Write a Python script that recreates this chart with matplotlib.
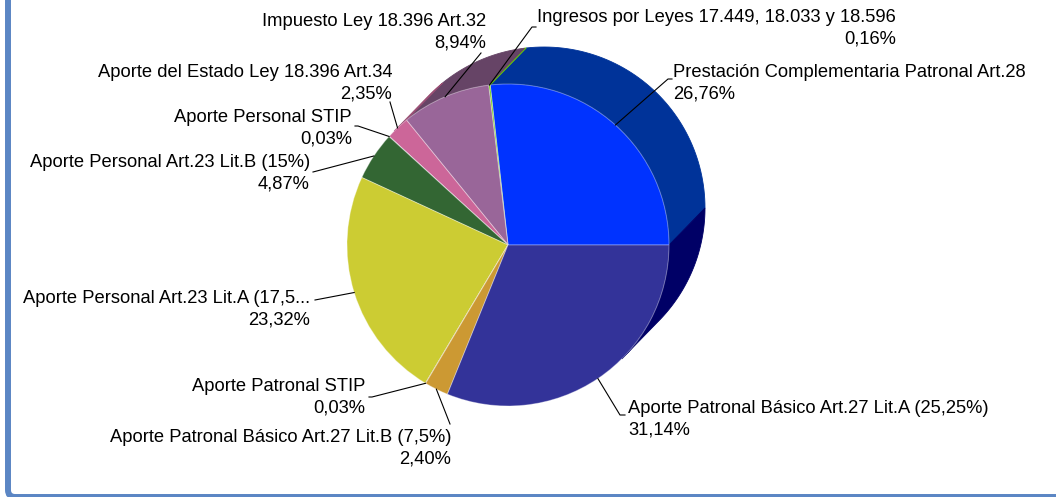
import numpy as np
import matplotlib
matplotlib.use("Agg")
import matplotlib.pyplot as plt
from matplotlib.patches import FancyBboxPatch, Polygon

plt.rcParams['font.family'] = ['Liberation Sans', 'DejaVu Sans']

# data, counterclockwise from 3 o'clock
labels = [
    "Prestación Complementaria Patronal Art.28",
    "Ingresos por Leyes 17.449, 18.033 y 18.596",
    "Impuesto Ley 18.396 Art.32",
    "Aporte del Estado Ley 18.396 Art.34",
    "Aporte Personal STIP",
    "Aporte Personal Art.23 Lit.B (15%)",
    "Aporte Personal Art.23 Lit.A (17,5...",
    "Aporte Patronal STIP",
    "Aporte Patronal Básico Art.27 Lit.B (7,5%)",
    "Aporte Patronal Básico Art.27 Lit.A (25,25%)",
]
pct = [26.76, 0.16, 8.94, 2.35, 0.03, 4.87, 23.32, 0.03, 2.40, 31.14]

front_colors = ['#0033ff', '#66cc00', '#996699', '#cc6699', '#cc99cc',
                '#336633', '#cccc33', '#996633', '#cc9933', '#333399']
side_colors = ['#003399', '#66cc00', '#664466', '#994d73', '#996699',
               '#224422', '#999922', '#664422', '#996622', '#000066']

# label layout: (text x, text y centre, align, leader path points) in pixel coords (y down)
label_pos = [
    (673, 83, 'left', [(668, 79), (672, 79)]),
    (896, 28, 'right', [(532, 27), (536, 27)]),
    (486, 32, 'right', [(481, 53)]),
    (392, 83, 'right', [(390, 102)]),
    (352, 128, 'right', [(358, 126), (355, 126)]),
    (310, 173, 'right', [(313, 172)]),
    (310, 309, 'right', [(315, 300)]),
    (365, 397, 'right', [(372, 397), (369, 397)]),
    (451, 448, 'right', [(450, 424)]),
    (628, 419, 'left', [(620, 415), (625, 415)]),
]

W, H = 1056, 497
fig = plt.figure(figsize=(W / 100, H / 100), dpi=100)
ax = fig.add_axes([0, 0, 1, 1])

cx, cy = 508, H - 245
R = 161
dx, dy = 36, 37

wedges, _ = ax.pie(pct, colors=front_colors, startangle=0, counterclock=True,
                   center=(cx, cy), radius=R, normalize=True, frame=True,
                   wedgeprops=dict(edgecolor=(1, 1, 1, 0.35), linewidth=0.7, zorder=3))
ax.set_xlim(0, W)
ax.set_ylim(0, H)
ax.set_aspect('equal')
ax.axis('off')

# side walls of the extruded pie (visible between -45 and 135 degrees)
for w, sc in zip(wedges, side_colors):
    t1, t2 = w.theta1, w.theta2
    for k in (-1, 0, 1):
        a = max(t1 + 360 * k, -45)
        b = min(t2 + 360 * k, 135)
        if a >= b:
            continue
        th = np.radians(np.linspace(a, b, 60))
        fx = cx + R * np.cos(th)
        fy = cy + R * np.sin(th)
        bx = fx[::-1] + dx
        by = fy[::-1] + dy
        poly = Polygon(np.column_stack([np.r_[fx, bx], np.r_[fy, by]]),
                       closed=True, facecolor=sc, edgecolor=sc, linewidth=0.6, zorder=1)
        ax.add_patch(poly)

# labels with leader lines
for w, lab, p, (tx, ty, ha, pts) in zip(wedges, labels, pct, label_pos):
    mid = np.radians((w.theta1 + w.theta2) / 2)
    ax0 = cx + R * np.cos(mid)
    ay0 = cy + R * np.sin(mid)
    xs = [ax0] + [q[0] for q in pts]
    ys = [ay0] + [H - q[1] for q in pts]
    ax.plot(xs, ys, color='black', lw=0.8, zorder=4)
    txt = lab + "\n" + ("%.2f%%" % p).replace('.', ',')
    ax.text(tx, H - ty, txt, ha=ha, va='center', multialignment=ha,
            fontsize=13.2, linespacing=1.36, zorder=5)

# rounded frame
frame = FancyBboxPatch((8, 0), 1200, 700, boxstyle="round,pad=0,rounding_size=7",
                       facecolor='none', edgecolor='#5b86c4', linewidth=4.3, zorder=6)
ax.add_patch(frame)

fig.savefig("out.png", dpi=100)
